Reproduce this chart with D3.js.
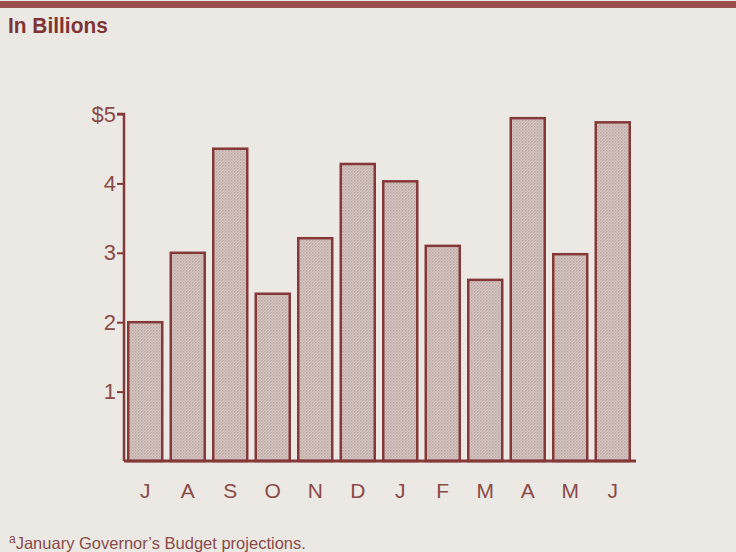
<!DOCTYPE html>
<html>
<head>
<meta charset="utf-8">
<script src="https://cdn.jsdelivr.net/npm/d3@7"></script>
<style>
  body { margin: 0; background: #ece9e4; }
  svg { display: block; font-family: "Liberation Sans", Arial, sans-serif; }
</style>
</head>
<body>
<svg id="chart"></svg>
<script>
// Data
const months = ["J", "A", "S", "O", "N", "D", "J", "F", "M", "A", "M", "J"];
const values = [2.0, 3.0, 4.5, 2.41, 3.21, 4.28, 4.03, 3.1, 2.61, 4.94, 2.98, 4.88];
const yTicks = [1, 2, 3, 4, 5];

const width = 736, height = 552;
const ink = "#853838";
const textInk = "#8a4a48";

const svg = d3.select("#chart")
  .attr("width", width)
  .attr("height", height);

// stipple pattern for the bars
const defs = svg.append("defs");
const pat = defs.append("pattern")
  .attr("id", "stipple")
  .attr("width", 3).attr("height", 3)
  .attr("patternUnits", "userSpaceOnUse");
pat.append("rect").attr("width", 3).attr("height", 3).attr("fill", "#d6c6c2");
pat.append("rect").attr("width", 1.5).attr("height", 1.5).attr("fill", "#bba6a2");
pat.append("rect").attr("x", 1.5).attr("y", 1.5).attr("width", 1.5).attr("height", 1.5).attr("fill", "#c7b3af");

svg.append("rect")
  .attr("width", width).attr("height", height)
  .attr("fill", "#ece9e4");

// heavy top rule
svg.append("rect")
  .attr("x", 0).attr("y", 1)
  .attr("width", width).attr("height", 7)
  .attr("fill", "#9a4f4f");

svg.append("text")
  .attr("x", 8).attr("y", 33)
  .attr("font-size", 22)
  .attr("font-weight", "bold")
  .attr("fill", "#7e3434")
  .attr("transform", "translate(8,0) scale(0.95,1) translate(-8,0)")
  .text("In Billions");

// Scales
const x = d3.scaleBand()
  .domain(d3.range(months.length))
  .range([124, 634])
  .paddingInner(0.2)
  .paddingOuter(0.1);

const y = d3.scaleLinear()
  .domain([0, 5])
  .range([461, 114]);

// Bars
svg.append("g")
  .selectAll("rect")
  .data(values)
  .enter().append("rect")
  .attr("x", (d, i) => x(i))
  .attr("y", d => y(d))
  .attr("width", x.bandwidth())
  .attr("height", d => y(0) - y(d))
  .attr("fill", "url(#stipple)")
  .attr("stroke", ink)
  .attr("stroke-width", 2.5);

// Y axis
const yAxis = svg.append("g")
  .attr("transform", "translate(124,0)")
  .call(d3.axisLeft(y)
    .tickValues(yTicks)
    .tickSize(7)
    .tickFormat(d => d === 5 ? "$5" : d));
yAxis.select(".domain").attr("stroke", ink).attr("stroke-width", 2.5)
  .attr("d", `M-7,${y(5)}H0V${y(0)}`);
yAxis.selectAll(".tick line").attr("stroke", ink).attr("stroke-width", 2);
yAxis.selectAll(".tick text")
  .attr("font-size", 22)
  .attr("fill", textInk)
  .attr("x", -8);

// X axis baseline and labels
const xAxis = svg.append("g")
  .attr("transform", `translate(0,${y(0)})`)
  .call(d3.axisBottom(x).tickSize(0).tickFormat(i => months[i]));
xAxis.select(".domain").attr("stroke", ink).attr("stroke-width", 3)
  .attr("d", "M124,0H636");
xAxis.selectAll(".tick text")
  .attr("font-size", 21)
  .attr("fill", textInk)
  .attr("dy", "1.6em");

// Footnote
const foot = svg.append("text")
  .attr("x", 9).attr("y", 549)
  .attr("font-size", 16.5)
  .attr("fill", textInk);
foot.append("tspan").attr("font-size", 12).attr("dy", -6).text("a");
foot.append("tspan").attr("dy", 6).text("January Governor\u2019s Budget projections.");
</script>
</body>
</html>
